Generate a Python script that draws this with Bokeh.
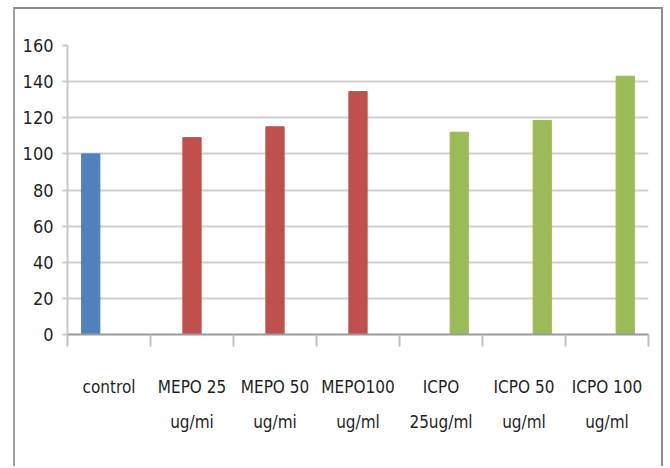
from bokeh.plotting import figure
from bokeh.models import ColumnDataSource, FixedTicker, Range1d
from bokeh.embed import file_html
from bokeh.resources import INLINE

# Treatment groups shown along the x axis
categories = [
    "control",
    "MEPO 25\nug/mi",
    "MEPO 50\nug/mi",
    "MEPO100\nug/ml",
    "ICPO\n25ug/ml",
    "ICPO 50\nug/ml",
    "ICPO 100\nug/ml",
]
# Measured response per group
values = [100, 109, 115, 134.5, 112, 118.5, 143]
# Series each group belongs to
series = ["control", "MEPO", "MEPO", "MEPO", "ICPO", "ICPO", "ICPO"]
series_names = ["control", "MEPO", "ICPO"]
series_colors = ["#4f81bd", "#c0504d", "#9bbb59"]
y_ticks = [0, 20, 40, 60, 80, 100, 120, 140, 160]

BAR_W = 0.22
FONT = "DejaVu Sans Condensed, Liberation Sans, sans-serif"
TEXT = "#1f1f1f"

# clustered layout: each series keeps its own slot inside a category
xs, colors = [], []
for i, s in enumerate(series):
    k = series_names.index(s)
    xs.append(i + 0.5 + (k - 1) * BAR_W)
    colors.append(series_colors[k])

src = ColumnDataSource(dict(x=xs, top=values, color=colors))

p = figure(
    width=650, height=459,
    x_range=Range1d(0, len(categories)), y_range=Range1d(0, 160),
    output_backend="svg", toolbar_location=None,
    min_border_left=52, min_border_right=17,
    min_border_top=36, min_border_bottom=134,
)
p.margin = (7, 0, 0, 13)
p.styles = {
    "border-top": "2px solid #8c8c8c",
    "border-left": "2px solid #a0a0a0",
    "border-right": "2px solid #8c8c8c",
}
p.outline_line_color = None
p.background_fill_color = "white"
p.border_fill_color = "white"

p.vbar(x="x", top="top", bottom=0, width=BAR_W, color="color", source=src)

# y axis
p.yaxis.ticker = FixedTicker(ticks=y_ticks, minor_ticks=[])
p.yaxis.axis_line_color = "#c8c8c8"
p.yaxis.axis_line_width = 2
p.yaxis.major_tick_line_color = "#c8c8c8"
p.yaxis.major_tick_line_width = 2
p.yaxis.major_tick_out = 5
p.yaxis.major_tick_in = 0
p.yaxis.minor_tick_out = 0
p.yaxis.major_label_standoff = 9
p.yaxis.major_label_text_font = FONT
p.yaxis.major_label_text_font_size = "18px"
p.yaxis.major_label_text_color = TEXT

# x axis: labels at category centres, tick marks on category boundaries
centres = [i + 0.5 for i in range(len(categories))]
bounds = list(range(len(categories) + 1))
p.xaxis.ticker = FixedTicker(ticks=centres, minor_ticks=bounds)
p.xaxis.major_label_overrides = {c: lab for c, lab in zip(centres, categories)}
p.xaxis.axis_line_color = "#9a9a9a"
p.xaxis.axis_line_width = 2
p.xaxis.major_tick_out = 0
p.xaxis.major_tick_in = 0
p.xaxis.minor_tick_out = 12
p.xaxis.minor_tick_in = 0
p.xaxis.minor_tick_line_color = "#c0c0c0"
p.xaxis.minor_tick_line_width = 2
p.xaxis.major_label_standoff = 30
p.xaxis.major_label_text_font = FONT
p.xaxis.major_label_text_font_size = "17px"
p.xaxis.major_label_text_color = TEXT
p.xaxis.major_label_text_line_height = 1.75

p.xgrid.visible = False
p.ygrid.grid_line_color = "#d0d0d0"
p.ygrid.grid_line_width = 2

open("out.html", "w").write(file_html(p, INLINE))
